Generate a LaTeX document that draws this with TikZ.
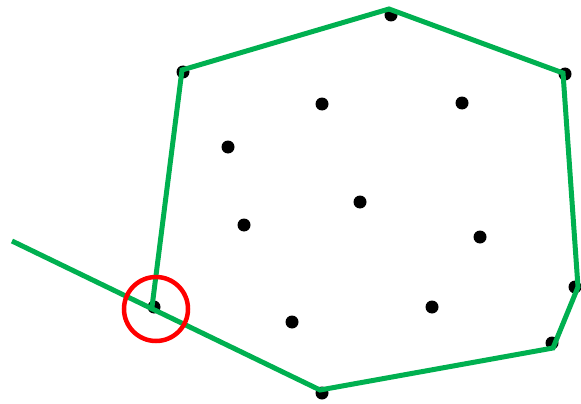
\documentclass[tikz,border=0pt]{standalone}
\usepackage{xcolor}
\definecolor{hullgreen}{RGB}{0,176,80}
\begin{document}
\begin{tikzpicture}[x=1pt,y=-1pt,
  pt/.style={circle,fill=black,inner sep=0pt,minimum size=13pt},
  hull/.style={draw=hullgreen,line width=5pt,line join=miter},
  mark circ/.style={draw=red,line width=4.5pt}]
\useasboundingbox (0,0) rectangle (581,404);
% points
\node[pt] (p1) at (183,72) {};
\node[pt] (p2) at (391,15) {};
\node[pt] (p3) at (565,74) {};
\node[pt] (p4) at (575,287) {};
\node[pt] (p5) at (552,343) {};
\node[pt] (p6) at (322,393) {};
\node[pt] (p7) at (154,307) {};
\node[pt] (q1) at (322,104) {};
\node[pt] (q2) at (462,103) {};
\node[pt] (q3) at (228,147) {};
\node[pt] (q4) at (360,202) {};
\node[pt] (q5) at (244,225) {};
\node[pt] (q6) at (480,237) {};
\node[pt] (q7) at (292,322) {};
\node[pt] (q8) at (432,307) {};
% hull path vertices
\coordinate (s) at (12,241);
\coordinate (h6) at (320,390);
\coordinate (h5) at (553,348);
\coordinate (h4) at (578,287);
\coordinate (h3) at (563,73);
\coordinate (h2) at (389,9);
\coordinate (h1) at (182,70);
\coordinate (h7) at (152,307);
\draw[hull] (s) -- (h6) -- (h5) -- (h4) -- (h3) -- (h2) -- (h1) -- (h7);
% marker
\node[mark circ,circle,minimum size=64pt,inner sep=0pt] (c) at (156,309) {};
\end{tikzpicture}
\end{document}
